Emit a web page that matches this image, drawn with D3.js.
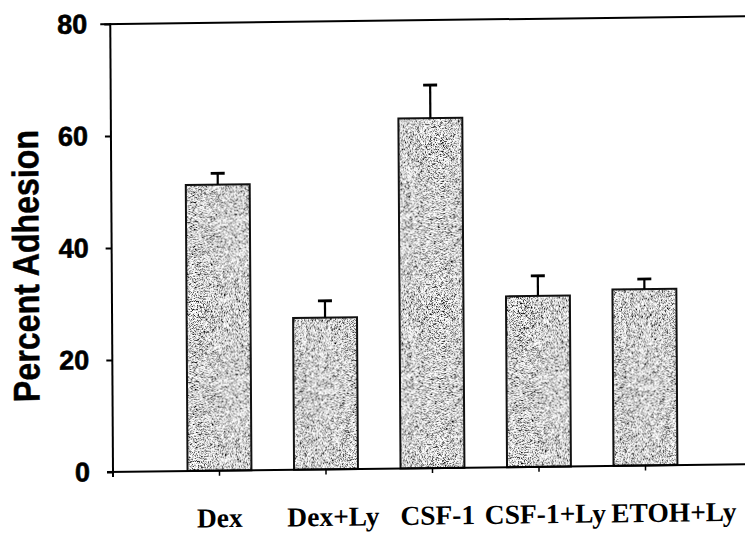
<!DOCTYPE html>
<html>
<head>
<meta charset="utf-8">
<script src="https://cdn.jsdelivr.net/npm/d3@7"></script>
<style>
  html, body { margin: 0; padding: 0; background: #fff; }
  svg { display: block; }
</style>
</head>
<body>
<svg id="chart" width="745" height="533"></svg>
<script>
const categories = ["Dex", "Dex+Ly", "CSF-1", "CSF-1+Ly", "ETOH+Ly"];
const values = [51.1, 27.1, 62.5, 30.5, 31.5];
const errors = [2.0, 3.0, 5.9, 3.6, 1.8];
const yTicks = [0, 20, 40, 60, 80];
const yTitle = "Percent Adhesion";
// horizontal nudges of the category labels, as typeset in the original
const labelNudge = [0, 7, 5, 6, 28];

const svg = d3.select("#chart");
const defs = svg.append("defs");
const f = defs.append("filter").attr("id", "stipple")
  .attr("x", 0).attr("y", 0).attr("width", 1).attr("height", 1);
f.append("feTurbulence").attr("type", "fractalNoise")
  .attr("baseFrequency", 1.6).attr("numOctaves", 2).attr("seed", 7).attr("result", "n");
f.append("feColorMatrix").attr("in", "n").attr("type", "matrix")
  .attr("values", "4.2 0 0 0 -1.45  4.2 0 0 0 -1.45  4.2 0 0 0 -1.45  0 0 0 0 1")
  .attr("result", "g");
f.append("feComposite").attr("in", "g").attr("in2", "SourceAlpha").attr("operator", "in");

const x0 = 113, yBase = 472;
const g = svg.append("g")
  .attr("transform", `rotate(-0.35,${x0},${yBase}) translate(${x0},${yBase}) skewY(-0.35) translate(${-x0},${-yBase})`);

const x = d3.scaleBand().domain(categories).range([113, 752])
  .paddingInner(0.4).paddingOuter(0.7);
const y = d3.scaleLinear().domain([0, 80]).range([472, 24]);

// top frame line
g.append("line").attr("x1", 103).attr("x2", 760)
  .attr("y1", y(80)).attr("y2", y(80))
  .attr("stroke", "#000").attr("stroke-width", 2);

// bars
const data = categories.map((c, i) => ({ c, v: values[i], e: errors[i] }));
g.selectAll("rect.fill").data(data).join("rect").attr("class", "fill")
  .attr("x", d => x(d.c)).attr("width", x.bandwidth())
  .attr("y", d => y(d.v)).attr("height", d => y(0) - y(d.v))
  .attr("fill", "#888").attr("filter", "url(#stipple)");
g.selectAll("rect.outline").data(data).join("rect").attr("class", "outline")
  .attr("x", d => x(d.c)).attr("width", x.bandwidth())
  .attr("y", d => y(d.v)).attr("height", d => y(0) - y(d.v))
  .attr("fill", "none").attr("stroke", "#111").attr("stroke-width", 2);

// error bars
const cx = d => x(d.c) + x.bandwidth() / 2;
g.selectAll("line.stem").data(data).join("line").attr("class", "stem")
  .attr("x1", cx).attr("x2", cx)
  .attr("y1", d => y(d.v)).attr("y2", d => y(d.v + d.e))
  .attr("stroke", "#000").attr("stroke-width", 2.2);
g.selectAll("line.cap").data(data).join("line").attr("class", "cap")
  .attr("x1", d => cx(d) - 7).attr("x2", d => cx(d) + 7)
  .attr("y1", d => y(d.v + d.e)).attr("y2", d => y(d.v + d.e))
  .attr("stroke", "#000").attr("stroke-width", 2.8);

// y axis
const yAxis = d3.axisLeft(y).tickValues(yTicks).tickSize(6).tickPadding(17).tickFormat(d3.format("d"));
const ya = g.append("g").attr("transform", "translate(113,0)").call(yAxis);
ya.select(".domain").remove();
ya.append("line").attr("x1", 0).attr("x2", 0).attr("y1", y(80) - 1).attr("y2", y(0) + 5)
  .attr("stroke", "#000").attr("stroke-width", 2);
ya.selectAll(".tick line").attr("stroke", "#000").attr("stroke-width", 2);
ya.selectAll(".tick text").attr("font-family", "'Liberation Sans', Arial, sans-serif")
  .attr("font-weight", "bold").attr("font-size", 27).attr("fill", "#000")
  .attr("stroke", "#000").attr("stroke-width", 0.6);

// x axis
const xAxis = d3.axisBottom(x).tickSize(5).tickPadding(32);
const xa = g.append("g").attr("transform", "translate(0,472)").call(xAxis);
xa.select(".domain").remove();
xa.append("line").attr("x1", 107).attr("x2", 760).attr("y1", 0).attr("y2", 0)
  .attr("stroke", "#000").attr("stroke-width", 2);
xa.selectAll(".tick line").attr("stroke", "#000").attr("stroke-width", 1.5);
xa.selectAll(".tick text")
  .attr("dx", (d, i) => labelNudge[i])
  .attr("font-family", "'Liberation Serif', 'Times New Roman', serif")
  .attr("font-weight", "bold").attr("font-size", 27.5).attr("fill", "#000");

// y title
g.append("text")
  .attr("transform", "translate(40,265) rotate(-90)")
  .attr("text-anchor", "middle")
  .attr("font-family", "'Liberation Sans', Arial, sans-serif")
  .attr("font-weight", "bold").attr("font-size", 37)
  .attr("stroke", "#000").attr("stroke-width", 0.5)
  .attr("textLength", 272).attr("lengthAdjust", "spacingAndGlyphs")
  .text(yTitle);
</script>
</body>
</html>
